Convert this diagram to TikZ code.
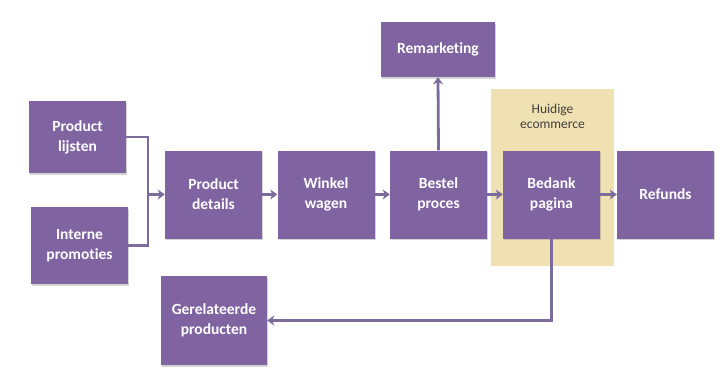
\documentclass[tikz,border=0pt]{standalone}
\usepackage{fontspec}
\setmainfont[Ligatures=NoCommon]{Carlito}
\usetikzlibrary{arrows.meta,shadows}
\definecolor{pur}{HTML}{8064A2}
\definecolor{lin}{HTML}{7C6C9E}
\definecolor{tan}{HTML}{F0E1B2}
\definecolor{txt}{HTML}{404040}
\tikzset{
  pbox/.style={fill=pur, text=white, font=\fontsize{15.5}{20}\selectfont\bfseries,
    align=center, inner sep=0pt, minimum width=97pt, minimum height=88pt,
    drop shadow={shadow xshift=1pt, shadow yshift=-1.5pt, opacity=0.35, fill=gray}},
  conn/.style={draw=lin, line width=2.8pt},
  arr/.style={conn, -{Stealth[length=7pt,width=10pt,inset=2pt]}}
}
\begin{document}
\begin{tikzpicture}[x=1pt,y=-1pt]
\useasboundingbox (0,0) rectangle (726,383);
\fill[tan] (491,89) rectangle (614,266);
\node[text=txt, font=\fontsize{13.5}{15.5}\selectfont, align=center] (hui) at (552.5,116.5) {Huidige\\ecommerce};
\node[pbox, minimum height=72pt] (lij) at (77.5,137) {Product\\lijsten};
\node[pbox, minimum height=77pt] (pro) at (79.5,245.5) {Interne\\promoties};
\node[pbox] (det) at (213.5,194.5) {Product\\details};
\node[pbox] (win) at (326,194.5) {Winkel\\wagen};
\node[pbox] (bes) at (438.5,194.5) {Bestel\\proces};
\node[pbox] (bed) at (551.5,194.5) {Bedank\\pagina};
\node[pbox] (ref) at (665.5,194.5) {Refunds};
\node[pbox, minimum width=114pt, minimum height=55pt] (rem) at (438,49.5) {Remarketing};
\node[pbox, minimum width=106pt, minimum height=89pt] (ger) at (214,320.5) {Gerelateerde\\producten};
\coordinate (j1) at (148,137);
\coordinate (j) at (148,194.5);
\draw[conn] (lij.east) -- (j1) |- (pro.east);
\draw[arr] (j) -- (det.west);
\draw[arr] (det) -- (win);
\draw[arr] (win) -- (bes);
\draw[arr] (bes) -- (bed);
\draw[arr] (bed) -- (ref);
\draw[arr] (bes.north) -- (rem.south);
\draw[arr] (bed.south) |- (ger.east);
\end{tikzpicture}
\end{document}
